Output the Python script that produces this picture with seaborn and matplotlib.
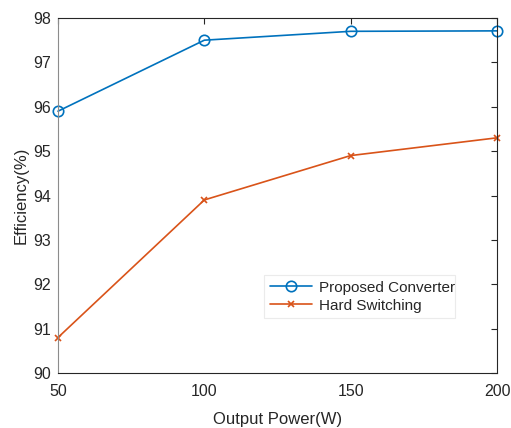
import matplotlib
matplotlib.use("Agg")
import matplotlib.pyplot as plt
import seaborn as sns
import pandas as pd

# data
power = [50, 100, 150, 200]
proposed = [95.9, 97.5, 97.7, 97.71]
hard = [90.8, 93.9, 94.9, 95.3]
series_names = ["Proposed Converter", "Hard Switching"]
colors = ["#0072BD", "#D95319"]

sns.set_style("white")
plt.rcParams["font.family"] = ["Liberation Sans", "DejaVu Sans"]

fig = plt.figure(figsize=(5.11, 4.28), dpi=100)
ax = fig.add_axes([58 / 511, 1 - 373 / 428, 439 / 511, 355 / 428])

# open circle for the proposed converter, thin cross for hard switching
sns.lineplot(x=power, y=proposed, color=colors[0], label=series_names[0],
             marker="o", markersize=7.5, markerfacecolor="none",
             markeredgecolor=colors[0], markeredgewidth=1.2, linewidth=1.2,
             clip_on=False, ax=ax)
sns.lineplot(x=power, y=hard, color=colors[1], label=series_names[1],
             marker="x", markersize=5, markeredgecolor=colors[1],
             markeredgewidth=1.2, linewidth=1.2, clip_on=False, ax=ax)

ax.set_xlim(50, 200)
ax.set_ylim(90, 98)
ax.set_xticks([50, 100, 150, 200])
ax.set_yticks(range(90, 99))
ax.tick_params(direction="in", top=True, right=True, length=4.5, width=0.8,
               labelsize=11.5, colors="#262626")
ax.tick_params(axis="x", pad=8)
ax.tick_params(axis="y", pad=5)
for s in ax.spines.values():
    s.set_visible(True)
    s.set_color("#262626")
    s.set_linewidth(0.8)
ax.spines["left"].set_color("#8c8c8c")
ax.set_xlabel("Output Power(W)", fontsize=12, color="#262626", labelpad=9)
ax.set_ylabel("Efficiency(%)", fontsize=12, color="#262626", labelpad=3)

leg = ax.legend(loc="lower left", bbox_to_anchor=(0.47, 0.155, 0.435, 0.12),
                mode="expand", borderaxespad=0, fontsize=11, frameon=True,
                fancybox=False, handlelength=2.8, borderpad=0.35,
                labelspacing=0.25, handletextpad=0.4)
leg.get_frame().set_edgecolor("#e6e6e6")
leg.get_frame().set_linewidth(0.8)

fig.savefig("out.png", dpi=100)
